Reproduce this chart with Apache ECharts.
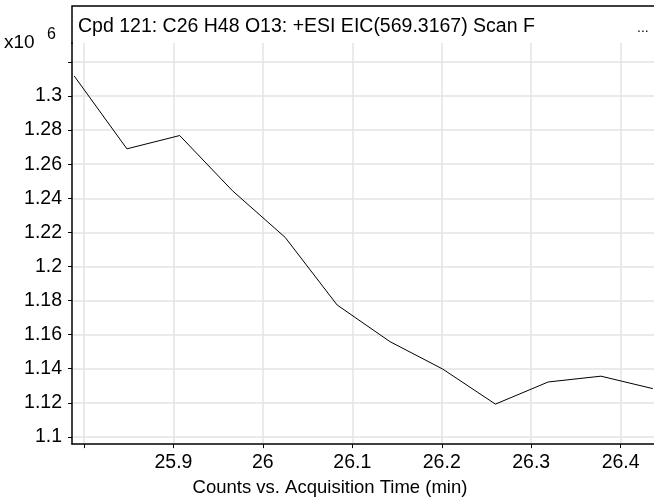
<!DOCTYPE html>
<html>
<head>
<meta charset="utf-8">
<script src="https://cdn.jsdelivr.net/npm/echarts@6/dist/echarts.min.js"></script>
<style>
html, body { margin: 0; padding: 0; background: #fff; }
#main { width: 654px; height: 502px; }
</style>
</head>
<body>
<div id="main"></div>
<script>
// EIC trace, counts in x10^6
const times = [25.789, 25.848, 25.907, 25.966, 26.025, 26.083, 26.142, 26.201, 26.260, 26.319, 26.378, 26.436];
const counts = [1.3118, 1.2690, 1.2768, 1.2444, 1.2170, 1.1774, 1.1559, 1.1398, 1.1192, 1.1322, 1.1356, 1.1283];
const xTicks = [25.8, 25.9, 26, 26.1, 26.2, 26.3, 26.4];
const xLabels = [25.9, 26, 26.1, 26.2, 26.3, 26.4];
const yTicks = [1.1, 1.12, 1.14, 1.16, 1.18, 1.2, 1.22, 1.24, 1.26, 1.28, 1.3, 1.32];
const yLabels = [1.1, 1.12, 1.14, 1.16, 1.18, 1.2, 1.22, 1.24, 1.26, 1.28, 1.3];

const font = "'Liberation Sans', Arial, sans-serif";
const chart = echarts.init(document.getElementById('main'));

chart.setOption({
    animation: false,
    title: {
        text: 'Cpd 121: C26 H48 O13: +ESI EIC(569.3167) Scan F',
        left: 73,
        top: 12,
        textStyle: { fontFamily: font, fontSize: 19.5, fontWeight: 'normal', color: '#000' }
    },
    grid: { left: 72, right: 0, top: 43, bottom: 49 },
    xAxis: {
        type: 'value',
        min: 25.7866,
        max: 26.4373,
        name: 'Counts vs. Acquisition Time (min)',
        nameLocation: 'middle',
        nameGap: 27,
        nameTextStyle: { fontFamily: font, fontSize: 18.5, color: '#000', padding: [0, 66, 0, 0] },
        axisLine: { show: true, lineStyle: { color: '#000', width: 1.5 } },
        axisTick: { show: true, length: 4, customValues: xTicks, lineStyle: { color: '#000' } },
        axisLabel: {
            customValues: xLabels,
            margin: 9,
            fontFamily: font,
            fontSize: 19.5,
            color: '#000',
            formatter: v => String(+v.toFixed(1))
        },
        splitLine: { show: true, lineStyle: { color: '#e3e3e3', width: 1.5 } }
    },
    yAxis: {
        type: 'value',
        min: 1.09575,
        max: 1.3311,
        axisLine: { show: true, lineStyle: { color: '#000', width: 1.5 } },
        axisTick: { show: true, length: 4, customValues: yTicks, lineStyle: { color: '#000' } },
        axisLabel: {
            customValues: yLabels,
            margin: 10,
            fontFamily: font,
            fontSize: 19.5,
            color: '#000',
            formatter: v => String(+v.toFixed(2))
        },
        splitLine: { show: true, lineStyle: { color: '#e3e3e3', width: 1.5 } }
    },
    graphic: [
        {
            type: 'polyline',
            shape: { points: [[654, 6], [72, 6], [72, 44]] },
            style: { stroke: '#000', lineWidth: 1.5, fill: null }
        },
        {
            type: 'text', left: 4, top: 33,
            style: { text: 'x10', font: '19px ' + font, fill: '#000' }
        },
        {
            type: 'text', left: 47, top: 27,
            style: { text: '6', font: '16px ' + font, fill: '#000' }
        },
        {
            type: 'text', left: 637, top: 21,
            style: { text: '...', font: '14px ' + font, fill: '#000' }
        }
    ],
    series: [{
        type: 'line',
        data: times.map((t, i) => [t, counts[i]]),
        showSymbol: false,
        lineStyle: { color: '#000', width: 1 },
        clip: true
    }]
});
</script>
</body>
</html>
